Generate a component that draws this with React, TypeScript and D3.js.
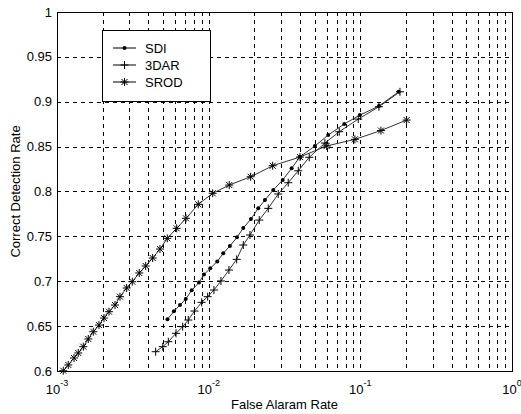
import React, { useEffect, useRef } from "react";
import * as d3 from "d3";

// false alarm rate (x) and correct detection rate (y) for each method
const sdiX = [5.35e-3, 5.9e-3, 6.47e-3, 7.06e-3, 7.73e-3, 8.63e-3, 9.31e-3, 1.025e-2, 1.139e-2, 1.248e-2, 1.381e-2, 1.537e-2, 1.691e-2, 1.9e-2, 2.123e-2, 2.35e-2, 2.666e-2, 3.075e-2, 3.524e-2, 4.0e-2, 5.02e-2, 6.14e-2, 7.83e-2, 9.94e-2, 0.1326, 0.1789];
const sdiY = [0.6576, 0.6665, 0.6735, 0.6802, 0.6899, 0.6986, 0.7075, 0.7144, 0.722, 0.7311, 0.7393, 0.7489, 0.7593, 0.7693, 0.7812, 0.7905, 0.8016, 0.8128, 0.8258, 0.8387, 0.8507, 0.8629, 0.8752, 0.8852, 0.8952, 0.9111];

const darX = [4.47e-3, 4.98e-3, 5.42e-3, 6.09e-3, 6.74e-3, 7.34e-3, 8.06e-3, 8.99e-3, 9.85e-3, 1.083e-2, 1.205e-2, 1.361e-2, 1.53e-2, 1.691e-2, 1.872e-2, 2.156e-2, 2.471e-2, 2.876e-2, 3.346e-2, 3.898e-2, 4.604e-2, 5.84e-2, 7.26e-2, 9.69e-2, 0.1326, 0.1825];
const darY = [0.6215, 0.6271, 0.6326, 0.642, 0.6494, 0.6568, 0.6668, 0.6765, 0.6828, 0.6902, 0.7003, 0.7125, 0.7244, 0.7404, 0.7515, 0.7682, 0.7812, 0.7972, 0.8098, 0.8231, 0.8381, 0.854, 0.8666, 0.8807, 0.8944, 0.9111];

const srodX = [1.1e-3, 1.187e-3, 1.295e-3, 1.381e-3, 1.491e-3, 1.608e-3, 1.735e-3, 1.891e-3, 2.041e-3, 2.202e-3, 2.412e-3, 2.602e-3, 2.88e-3, 3.136e-3, 3.487e-3, 3.843e-3, 4.274e-3, 4.775e-3, 5.334e-3, 6.152e-3, 7.088e-3, 8.54e-3, 1.063e-2, 1.367e-2, 1.891e-2, 2.642e-2, 4.0e-2, 5.995e-2, 9.21e-2, 0.1367, 0.2019];
const srodY = [0.6003, 0.6067, 0.6145, 0.6201, 0.6271, 0.6357, 0.6438, 0.6512, 0.659, 0.6661, 0.6735, 0.6828, 0.6925, 0.6995, 0.7092, 0.717, 0.7259, 0.7359, 0.7478, 0.759, 0.7701, 0.7857, 0.798, 0.8072, 0.8164, 0.8287, 0.8384, 0.8507, 0.8581, 0.8679, 0.8796];

const seriesNames = ["SDI", "3DAR", "SROD"];
const markers = ["dot", "plus", "star"];

const xTickValues = [1e-3, 1e-2, 1e-1, 1];
const xTickExps = ["-3", "-2", "-1", "0"];
const yTickValues = [0.6, 0.65, 0.7, 0.75, 0.8, 0.85, 0.9, 0.95, 1];
const yTickLabels = ["0.6", "0.65", "0.7", "0.75", "0.8", "0.85", "0.9", "0.95", "1"];

const Chart = () => {
  const svgRef = useRef<SVGSVGElement>(null);

  useEffect(() => {
    const W = 521;
    const H = 414;
    const left = 57, right = 512, top = 12, bottom = 371;
    const font = "'Liberation Sans', Arial, sans-serif";

    const x = d3.scaleLog().domain([1e-3, 1]).range([left, right]);
    const y = d3.scaleLinear().domain([0.6, 1]).range([bottom, top]);

    const svg = d3.select(svgRef.current);
    svg.selectAll("*").remove();
    svg.attr("width", W).attr("height", H);

    svg.append("rect").attr("width", W).attr("height", H).attr("fill", "#fff");

    // grid
    const xGrid: number[] = [];
    [1e-3, 1e-2, 1e-1].forEach((d) => {
      for (let k = 1; k <= 9; k++) if (!(d === 1e-3 && k === 1)) xGrid.push(d * k);
    });
    const grid = svg.append("g").attr("stroke", "#000").attr("stroke-width", 1)
      .attr("stroke-dasharray", "4 4");
    grid.selectAll("line.vx").data(xGrid).enter().append("line")
      .attr("x1", (d) => Math.round(x(d)) + 0.5).attr("x2", (d) => Math.round(x(d)) + 0.5)
      .attr("y1", top).attr("y2", bottom);
    grid.selectAll("line.hy").data(yTickValues.slice(1, -1)).enter().append("line")
      .attr("y1", (d) => Math.round(y(d)) + 0.5).attr("y2", (d) => Math.round(y(d)) + 0.5)
      .attr("x1", left).attr("x2", right);

    // frame
    svg.append("rect").attr("x", left + 0.5).attr("y", top + 0.5)
      .attr("width", right - left).attr("height", bottom - top)
      .attr("fill", "none").attr("stroke", "#000");

    // tick labels
    svg.append("g").selectAll("text").data(yTickValues).enter().append("text")
      .attr("x", left - 5).attr("y", (d) => y(d)).attr("dy", "0.35em")
      .attr("text-anchor", "end").style("font-family", font).style("font-size", "13px")
      .text((_, i) => yTickLabels[i]);

    const xl = svg.append("g").selectAll("text").data(xTickValues).enter().append("text")
      .attr("x", (d) => x(d)).attr("y", 394).attr("text-anchor", "middle")
      .style("font-family", font).style("font-size", "13px");
    xl.append("tspan").text("10");
    xl.append("tspan").attr("dy", -8).style("font-size", "9px").text((_, i) => xTickExps[i]);

    // axis titles
    svg.append("text").attr("x", (left + right) / 2).attr("y", 409).attr("text-anchor", "middle")
      .style("font-family", font).style("font-size", "13px").text("False Alaram Rate");
    svg.append("text").attr("transform", `translate(20,${(top + bottom) / 2}) rotate(-90)`)
      .attr("text-anchor", "middle").style("font-family", font).style("font-size", "13px")
      .text("Correct Detection Rate");

    const drawMarker = (g: any, type: string, cx: number, cy: number) => {
      const s = 4;
      if (type === "dot") {
        g.append("circle").attr("cx", cx).attr("cy", cy).attr("r", 2).attr("fill", "#000");
        return;
      }
      const p = g.append("path").attr("fill", "none").attr("stroke", "#000").attr("stroke-width", 1);
      let dd = `M${cx - s},${cy}H${cx + s}M${cx},${cy - s}V${cy + s}`;
      if (type === "star") {
        const t = s * 0.75;
        dd += `M${cx - t},${cy - t}L${cx + t},${cy + t}M${cx - t},${cy + t}L${cx + t},${cy - t}`;
      }
      p.attr("d", dd);
    };

    const line = d3.line<[number, number]>().x((d) => x(d[0])).y((d) => y(d[1]));
    const allSeries = [
      d3.zip(sdiX, sdiY) as [number, number][],
      d3.zip(darX, darY) as [number, number][],
      d3.zip(srodX, srodY) as [number, number][],
    ];
    allSeries.forEach((pts, si) => {
      const g = svg.append("g");
      g.append("path").attr("d", line(pts)).attr("fill", "none")
        .attr("stroke", "#333").attr("stroke-width", 1);
      pts.forEach((p) => drawMarker(g, markers[si], x(p[0]), y(p[1])));
    });

    // legend
    const lg = svg.append("g");
    lg.append("rect").attr("x", 102.5).attr("y", 30.5).attr("width", 108).attr("height", 71)
      .attr("fill", "#fff").attr("stroke", "#000");
    seriesNames.forEach((name, i) => {
      const ly = 48 + i * 17;
      lg.append("line").attr("x1", 113).attr("x2", 136).attr("y1", ly).attr("y2", ly)
        .attr("stroke", "#000");
      drawMarker(lg, markers[i], 124.5, ly);
      lg.append("text").attr("x", 145).attr("y", ly).attr("dy", "0.35em")
        .style("font-family", font).style("font-size", "13px").text(name);
    });
  }, []);

  return <svg ref={svgRef} style={{ position: "absolute", left: 0, top: 0 }}></svg>;
};

export default function App() {
  return <Chart />;
}
